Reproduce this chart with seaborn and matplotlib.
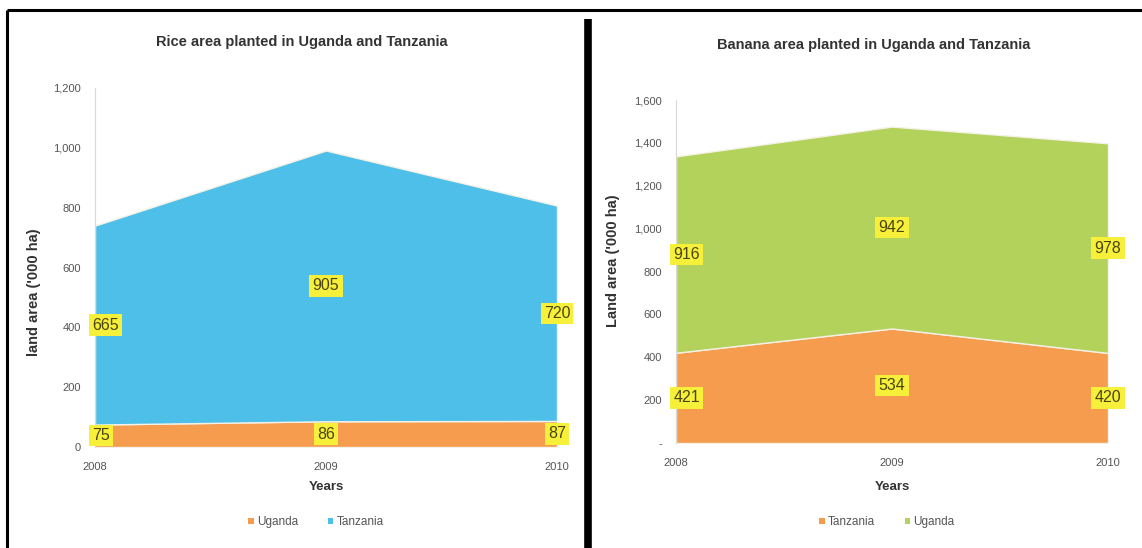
import matplotlib
matplotlib.use("Agg")
import matplotlib.pyplot as plt
from matplotlib.lines import Line2D
from matplotlib.patches import Patch
import seaborn as sns
import numpy as np

years = [2008, 2009, 2010]

rice_uganda = [75, 86, 87]
rice_tanzania = [665, 905, 720]

banana_tanzania = [421, 534, 420]
banana_uganda = [916, 942, 978]

rice_ticks = [0, 200, 400, 600, 800, 1000, 1200]
rice_tick_labels = ["0", "200", "400", "600", "800", "1,000", "1,200"]
banana_ticks = [0, 200, 400, 600, 800, 1000, 1200, 1400, 1600]
banana_tick_labels = ["-", "200", "400", "600", "800", "1,000", "1,200", "1,400", "1,600"]

ORANGE = "#F59C4E"
BLUE = "#4EBFE9"
GREEN = "#B2D25C"
LABEL_BG = "#F7F03A"
LABEL_FG = "#4A4410"

W, H = 1142, 548

sns.set_theme(style="white")
plt.rcParams["font.family"] = ["Liberation Sans Narrow", "Liberation Sans", "DejaVu Sans"]

fig = plt.figure(figsize=(W / 100, H / 100), dpi=100)


def fx(px):
    return px / W


def fy(py):
    return 1 - py / H


ax1 = fig.add_axes([fx(95), fy(447), fx(557 - 95), (447 - 88) / H])
ax2 = fig.add_axes([fx(676), fy(443), fx(1108 - 676), (443 - 100) / H])


def stacked_area(ax, lower, upper, c_low, c_up, ticks, tick_labels, ylabel, title, names,
                 title_xy, ylabel_xy, xlabel_y, legend_xy):
    lower = np.array(lower, dtype=float)
    upper = np.array(upper, dtype=float)
    ax.stackplot(years, lower, upper, colors=[c_low, c_up],
                 edgecolor="#F4F1E6", linewidth=1.0)
    ax.set_xlim(years[0], years[-1])
    ax.set_ylim(ticks[0], ticks[-1])
    ax.set_yticks(ticks)
    ax.set_yticklabels(tick_labels)
    ax.set_xticks(years)
    ax.set_xticklabels([str(y) for y in years])
    ax.tick_params(axis="both", labelsize=8, colors="#555555", length=0)
    ax.tick_params(axis="x", pad=11)
    ax.tick_params(axis="y", pad=10)
    for s in ["top", "right", "bottom"]:
        ax.spines[s].set_visible(False)
    ax.spines["left"].set_color("#D8D8D8")
    ax.spines["left"].set_linewidth(0.8)

    ax.set_xlabel("Years", fontsize=9.5, fontweight="bold", color="#333333")
    ax.xaxis.set_label_coords(0.5, xlabel_y)
    ax.set_ylabel(ylabel, fontsize=10.5, fontweight="bold", color="#333333")
    ax.yaxis.set_label_coords(*ylabel_xy)
    fig.text(fx(title_xy[0]), fy(title_xy[1]), title, ha="center", va="center",
             fontsize=10.5, fontweight="bold", color="#333333")

    # value labels centred in each band
    for i, x in enumerate(years):
        ha = "left" if i == 0 else "center"
        dx = -2 if i == 0 else 0
        for val, mid in ((lower[i], lower[i] / 2), (upper[i], lower[i] + upper[i] / 2)):
            ax.annotate(f"{int(val)}", (x, mid), xytext=(dx, 0), textcoords="offset points",
                        ha=ha, va="center", fontsize=11.5, color=LABEL_FG,
                        bbox=dict(boxstyle="square,pad=0.2", fc=LABEL_BG, ec="none"),
                        annotation_clip=False)

    handles = [Patch(facecolor=c_low, edgecolor="none"), Patch(facecolor=c_up, edgecolor="none")]
    fig.legend(handles, names, loc="center", bbox_to_anchor=(fx(legend_xy[0]), fy(legend_xy[1])),
               ncol=2, frameon=False, fontsize=8.5, handlelength=0.45, handleheight=0.45,
               handletextpad=0.3, columnspacing=2.5, labelcolor="#555555")


stacked_area(ax1, rice_uganda, rice_tanzania, ORANGE, BLUE, rice_ticks, rice_tick_labels,
             "land area ('000 ha)", "Rice area planted in Uganda and Tanzania",
             ["Uganda", "Tanzania"],
             title_xy=(302, 42), ylabel_xy=((41 - 95) / 462, (447 - 292) / 359),
             xlabel_y=-(481 - 447) / 359, legend_xy=(316, 522))
stacked_area(ax2, banana_tanzania, banana_uganda, ORANGE, GREEN, banana_ticks, banana_tick_labels,
             "Land area ('000 ha)", "Banana area planted in Uganda and Tanzania",
             ["Tanzania", "Uganda"],
             title_xy=(874, 45), ylabel_xy=((620 - 676) / 432, (443 - 261) / 343),
             xlabel_y=-(481 - 443) / 343, legend_xy=(887, 522))

# page frame and the heavy divider between the two panels
fig.add_artist(Line2D([fx(7), 1], [fy(10), fy(10)], color="black", lw=2.2, solid_capstyle="butt"))
fig.add_artist(Line2D([fx(7), fx(7)], [0, fy(10)], color="black", lw=2.2, solid_capstyle="butt"))
fig.add_artist(Line2D([fx(588), fx(588)], [0, fy(19)], color="black", lw=5.5, solid_capstyle="butt"))

fig.savefig("out.png", dpi=100)
